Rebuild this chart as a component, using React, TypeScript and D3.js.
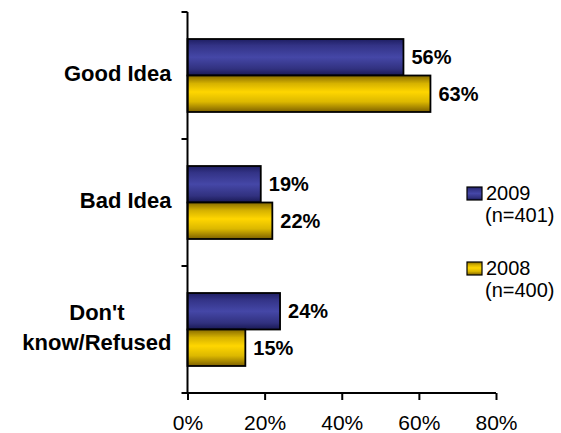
import React, { useEffect, useRef } from "react";
import * as d3 from "d3";

// Chart data
const categories = ["Good Idea", "Bad Idea", "Don't know/Refused"];
const categoryLines = [["Good Idea"], ["Bad Idea"], ["Don't", "know/Refused"]];
const seriesKeys = ["2009", "2008"];
const seriesLabels = [["2009", "(n=401)"], ["2008", "(n=400)"]];
const values2009 = [56, 19, 24];
const values2008 = [63, 22, 15];
const xTicks = [0, 20, 40, 60, 80];

const App: React.FC = () => {
  const svgRef = useRef<SVGSVGElement>(null);

  useEffect(() => {
    if (!svgRef.current) return;
    const svg = d3.select(svgRef.current);
    svg.selectAll("*").remove();

    const width = 561;
    const height = 433;
    svg.attr("width", width).attr("height", height);

    const font = "'Liberation Sans', Arial, sans-serif";

    // Gradients for the bars (dark edges, bright middle)
    const defs = svg.append("defs");
    const gradients: Record<string, [string, string][]> = {
      "2009": [
        ["0%", "#1e1e62"],
        ["18%", "#333386"],
        ["50%", "#4547a7"],
        ["82%", "#31317f"],
        ["100%", "#181852"],
      ],
      "2008": [
        ["0%", "#866a00"],
        ["22%", "#d6b200"],
        ["45%", "#ffd600"],
        ["72%", "#dcb800"],
        ["100%", "#7d6000"],
      ],
    };
    Object.entries(gradients).forEach(([key, stops]) => {
      const g = defs
        .append("linearGradient")
        .attr("id", `grad-${key}`)
        .attr("x1", 0)
        .attr("y1", 0)
        .attr("x2", 0)
        .attr("y2", 1);
      stops.forEach(([offset, color]) => {
        g.append("stop").attr("offset", offset).attr("stop-color", color);
      });
    });

    // Scales
    const x = d3.scaleLinear().domain([0, 80]).range([187.5, 496]);
    const y0 = d3.scaleBand<string>().domain(categories).range([12, 393]);
    const y1 = d3
      .scaleBand<string>()
      .domain(seriesKeys)
      .range([0, y0.bandwidth()])
      .paddingInner(0)
      .paddingOuter(0.74);

    const rows = categories.map((c, i) => ({
      category: c,
      lines: categoryLines[i],
      values: [
        { key: "2009", value: values2009[i] },
        { key: "2008", value: values2008[i] },
      ],
    }));

    // Bars
    const groups = svg
      .selectAll("g.cat")
      .data(rows)
      .enter()
      .append("g")
      .attr("class", "cat")
      .attr("transform", (d) => `translate(0, ${y0(d.category)})`);

    groups
      .selectAll("rect")
      .data((d) => d.values)
      .enter()
      .append("rect")
      .attr("x", x(0))
      .attr("y", (d) => y1(d.key)!)
      .attr("width", (d) => x(d.value) - x(0))
      .attr("height", y1.bandwidth())
      .attr("fill", (d) => `url(#grad-${d.key})`)
      .attr("stroke", "#000")
      .attr("stroke-width", 1.8);

    // Value labels
    groups
      .selectAll("text.value")
      .data((d) => d.values)
      .enter()
      .append("text")
      .attr("class", "value")
      .attr("x", (d) => x(d.value) + 8)
      .attr("y", (d) => y1(d.key)! + y1.bandwidth() / 2)
      .attr("dy", "0.35em")
      .text((d) => `${d.value}%`)
      .style("font-family", font)
      .style("font-weight", "bold")
      .style("font-size", "20px")
      .style("fill", "#000");

    // Category labels
    const labelRight = x(0) - 16;
    groups.each(function (d) {
      const g = d3.select(this);
      const cy = y0.bandwidth() / 2;
      const n = d.lines.length;
      const lineGap = 30;
      const text = g
        .append("text")
        .style("font-family", font)
        .style("font-weight", "bold")
        .style("font-size", "22px")
        .style("fill", "#000");
      const tspans = d.lines.map((line, i) =>
        text
          .append("tspan")
          .attr("y", cy + 5 + (i - (n - 1) / 2) * lineGap)
          .text(line)
      );
      if (n === 1) {
        text.attr("text-anchor", "end");
        tspans.forEach((t) => t.attr("x", labelRight));
      } else {
        const widest = d3.max(tspans, (t) =>
          (t.node() as SVGTSpanElement).getComputedTextLength()
        )!;
        text.attr("text-anchor", "middle");
        tspans.forEach((t) => t.attr("x", labelRight - widest / 2));
      }
    });

    // X axis
    const xAxis = svg
      .append("g")
      .attr("transform", `translate(0, ${y0.range()[1]})`)
      .call(
        d3
          .axisBottom(x)
          .tickValues(xTicks)
          .tickFormat((d) => `${d}%`)
          .tickSizeInner(7)
          .tickSizeOuter(0)
          .tickPadding(15)
      );
    xAxis.select(".domain").remove();
    xAxis.selectAll("line").attr("stroke", "#000").attr("stroke-width", 2);
    xAxis
      .selectAll("text")
      .style("font-family", font)
      .style("font-size", "21px")
      .style("fill", "#000");
    xAxis
      .append("line")
      .attr("x1", x(0) - 6)
      .attr("x2", x(80))
      .attr("y1", 0)
      .attr("y2", 0)
      .attr("stroke", "#000")
      .attr("stroke-width", 2);

    // Y axis with ticks at category boundaries
    const [yTop, yBottom] = y0.range();
    svg
      .append("line")
      .attr("x1", x(0))
      .attr("x2", x(0))
      .attr("y1", yTop)
      .attr("y2", yBottom)
      .attr("stroke", "#000")
      .attr("stroke-width", 2);
    const boundaries = categories.map((c) => y0(c)!);
    svg
      .selectAll("line.ytick")
      .data(boundaries)
      .enter()
      .append("line")
      .attr("class", "ytick")
      .attr("x1", x(0) - 6)
      .attr("x2", x(0))
      .attr("y1", (d) => d)
      .attr("y2", (d) => d)
      .attr("stroke", "#000")
      .attr("stroke-width", 2);

    // Legend
    const legend = svg
      .selectAll("g.legend")
      .data(seriesKeys)
      .enter()
      .append("g")
      .attr("class", "legend")
      .attr("transform", (_, i) => `translate(467, ${187 + i * 75})`);
    legend
      .append("rect")
      .attr("width", 15)
      .attr("height", 13)
      .attr("fill", (d) => `url(#grad-${d})`)
      .attr("stroke", "#000")
      .attr("stroke-width", 1.2);
    legend.each(function (_, i) {
      const t = d3
        .select(this)
        .append("text")
        .style("font-family", font)
        .style("font-size", "20px")
        .style("fill", "#000");
      seriesLabels[i].forEach((line, j) => {
        t.append("tspan")
          .attr("x", j === 0 ? 19 : 18)
          .attr("y", 13 + j * 22)
          .text(line);
      });
    });
  }, []);

  return (
    <svg
      ref={svgRef}
      style={{ position: "absolute", left: 0, top: 0, background: "#fff" }}
    ></svg>
  );
};

export default App;
